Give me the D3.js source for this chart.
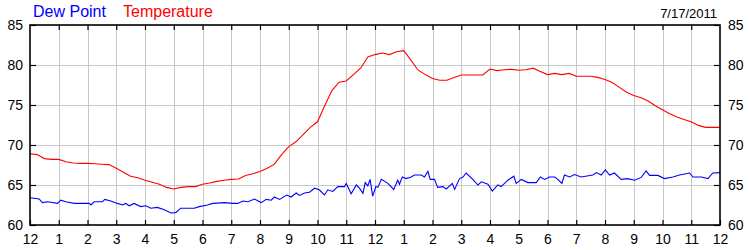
<!DOCTYPE html>
<html>
<head>
<meta charset="utf-8">
<script src="https://cdn.jsdelivr.net/npm/d3@7"></script>
<style>
  body { margin: 0; background: #fff; }
  svg { display: block; font-family: "Liberation Sans", Arial, sans-serif; }
</style>
</head>
<body>
<div id="chart"></div>
<script>
// hour labels along the bottom (midnight to midnight)
var hourLabels = ["12","1","2","3","4","5","6","7","8","9","10","11","12","1","2","3","4","5","6","7","8","9","10","11","12"];
var yTicks = [60, 65, 70, 75, 80, 85];
var chartDate = "7/17/2011";

// temperature, one reading every 15 minutes from 0:00 to 24:00
var tempValues = [
  68.9, 68.8, 68.3, 68.2, 68.2, 67.9, 67.75, 67.7, 67.7, 67.65, 67.6, 67.55,
  67.1, 66.6, 66.1, 65.9, 65.6, 65.35, 65.1, 64.7, 64.5, 64.7, 64.8, 64.8,
  65.1, 65.25, 65.45, 65.6, 65.7, 65.75, 66.2, 66.4, 66.7, 67.1, 67.6, 68.8,
  69.8, 70.4, 71.3, 72.2, 72.9, 74.9, 76.8, 77.85, 78.0, 78.8, 79.6, 81.0,
  81.3, 81.5, 81.3, 81.65, 81.8, 80.6, 79.35, 78.8, 78.3, 78.1, 78.1, 78.45,
  78.75, 78.75, 78.75, 78.75, 79.5, 79.3, 79.4, 79.45, 79.35, 79.4, 79.6, 79.2,
  78.8, 78.95, 78.8, 78.95, 78.6, 78.6, 78.6, 78.45, 78.2, 77.8, 77.2, 76.6,
  76.2, 75.9, 75.5, 74.9, 74.4, 73.9, 73.5, 73.2, 72.9, 72.45, 72.2, 72.2, 72.2
];
var tempHours = tempValues.map(function(d, i) { return i * 0.25; });

// dew point readings (hour of day, value)
var dewHours = [
  0, 0.32, 0.43, 0.61, 0.96, 1.07, 1.25, 1.54, 2.06, 2.12, 2.23, 2.52, 2.6, 2.81,
  3.04, 3.22, 3.33, 3.45, 3.62, 3.85, 4.03, 4.2, 4.43, 4.67, 4.9, 5.07, 5.24, 5.71,
  5.89, 6.17, 6.36, 6.77, 7.05, 7.23, 7.4, 7.58, 7.81, 8.04, 8.22, 8.39, 8.5, 8.68,
  8.93, 9.08, 9.26, 9.37, 9.55, 9.72, 9.9, 10.06, 10.24, 10.36, 10.53, 10.71, 10.94,
  11.0, 11.17, 11.35, 11.46, 11.58, 11.66, 11.75, 11.83, 11.92, 12.03, 12.1, 12.22,
  12.45, 12.65, 12.79, 12.85, 12.95, 13.08, 13.26, 13.37, 13.61, 13.72, 13.84, 13.92,
  14.07, 14.18, 14.36, 14.48, 14.69, 14.77, 14.94, 15.06, 15.17, 15.4, 15.58, 15.7,
  15.93, 16.08, 16.27, 16.39, 16.62, 16.83, 16.91, 17.09, 17.32, 17.61, 17.75, 17.9,
  18.07, 18.25, 18.36, 18.5, 18.59, 18.77, 18.94, 19.17, 19.58, 19.7, 19.87, 20.01,
  20.16, 20.33, 20.56, 20.79, 21.03, 21.26, 21.43, 21.55, 21.84, 22.07, 22.36, 22.59,
  22.94, 23.06, 23.35, 23.58, 23.75, 24
];
var dewValues = [
  63.4, 63.25, 62.8, 62.9, 62.7, 63.1, 62.9, 62.7, 62.7, 62.5, 62.9, 62.9, 63.2, 63.0,
  62.7, 62.5, 62.7, 62.4, 62.7, 62.3, 62.4, 62.1, 62.2, 61.9, 61.5, 61.55, 62.1, 62.1,
  62.3, 62.5, 62.7, 62.8, 62.7, 62.7, 63.0, 62.9, 63.25, 62.8, 63.2, 63.1, 63.5, 63.2,
  63.75, 63.5, 64.0, 63.7, 64.0, 64.1, 64.6, 64.4, 63.75, 64.4, 64.2, 64.8, 64.8,
  65.2, 63.9, 65.0, 64.6, 63.95, 65.3, 64.9, 65.7, 63.6, 64.8, 64.7, 65.7,
  65.2, 64.45, 65.6, 65.1, 66.0, 65.8, 66.0, 66.25, 66.25, 66.0, 66.7, 65.7,
  65.7, 64.7, 64.8, 64.5, 65.2, 64.45, 65.8, 66.0, 66.5, 65.7, 65.0, 65.4,
  65.1, 64.25, 65.0, 64.8, 65.6, 66.1, 65.2, 65.7, 65.3, 65.3, 66.0, 65.7,
  66.0, 66.0, 65.7, 65.2, 66.25, 66.0, 66.3, 66.0, 66.25, 66.55, 66.25, 66.9,
  66.25, 66.5, 65.7, 65.8, 65.6, 65.95, 66.75, 66.2, 66.2, 65.8, 66.0, 66.25,
  66.5, 66.0, 66.0, 65.8, 66.5, 66.55
];

var width = 750, height = 250;
var plotLeft = 30, plotRight = 720, plotTop = 25, plotBottom = 225;

var svg = d3.select("#chart").append("svg")
    .attr("width", width)
    .attr("height", height);

var x = d3.scaleLinear().domain([0, 24]).range([plotLeft, plotRight]);
var y = d3.scaleLinear().domain([60, 85]).range([plotBottom, plotTop]);

// grid
svg.append("g").selectAll("line")
   .data(d3.range(1, 24))
   .enter().append("line")
   .attr("x1", function(d) { return Math.round(x(d)) + 0.5; })
   .attr("x2", function(d) { return Math.round(x(d)) + 0.5; })
   .attr("y1", plotTop).attr("y2", plotBottom)
   .attr("stroke", "#c8c8c8");

svg.append("g").selectAll("line")
   .data(yTicks.slice(1, -1))
   .enter().append("line")
   .attr("x1", plotLeft).attr("x2", plotRight)
   .attr("y1", function(d) { return Math.round(y(d)) + 0.5; })
   .attr("y2", function(d) { return Math.round(y(d)) + 0.5; })
   .attr("stroke", "#c8c8c8");

// lines
var valueLine = d3.line()
    .x(function(d) { return x(d[0]); })
    .y(function(d) { return y(d[1]); });

svg.append("path")
   .datum(d3.zip(tempHours, tempValues))
   .attr("d", valueLine)
   .attr("fill", "none")
   .attr("stroke", "#ff0000")
   .attr("stroke-width", 1.1);

svg.append("path")
   .datum(d3.zip(dewHours, dewValues))
   .attr("d", valueLine)
   .attr("fill", "none")
   .attr("stroke", "#0000ff")
   .attr("stroke-width", 1.1);

// frame
svg.append("rect")
   .attr("x", plotLeft).attr("y", plotTop)
   .attr("width", plotRight - plotLeft).attr("height", plotBottom - plotTop)
   .attr("fill", "none")
   .attr("stroke", "#000")
   .attr("stroke-width", 1.6);

// bottom axis + top ticks
var xAxis = d3.axisBottom(x)
    .tickValues(d3.range(0, 25))
    .tickSizeInner(-5).tickSizeOuter(0)
    .tickPadding(9)
    .tickFormat(function(d, i) { return hourLabels[i]; });

svg.append("g")
   .attr("transform", "translate(0," + plotBottom + ")")
   .call(xAxis);

svg.append("g")
   .attr("transform", "translate(0," + plotTop + ")")
   .call(d3.axisTop(x).tickValues(d3.range(1, 24)).tickSizeInner(-5).tickSizeOuter(0).tickFormat(""));

svg.append("g")
   .attr("transform", "translate(" + plotLeft + ",0)")
   .call(d3.axisLeft(y).tickValues(yTicks).tickSizeInner(-6).tickSizeOuter(0).tickPadding(7));

svg.append("g")
   .attr("transform", "translate(" + plotRight + ",0)")
   .call(d3.axisRight(y).tickValues(yTicks).tickSizeInner(-6).tickSizeOuter(0).tickPadding(8));

svg.selectAll(".domain").remove();
svg.selectAll(".tick line").attr("stroke", "#000").attr("stroke-width", 1.2);
svg.selectAll(".tick text")
   .attr("fill", "#000")
   .style("font-family", '"Liberation Sans", Arial, sans-serif')
   .style("font-size", "14px");

// legend and date
svg.append("text").attr("x", 33).attr("y", 17)
   .attr("fill", "#0000ff").style("font-size", "16px").text("Dew Point");
svg.append("text").attr("x", 123).attr("y", 17)
   .attr("fill", "#ff0000").style("font-size", "16px").text("Temperature");
svg.append("text").attr("x", 717).attr("y", 18)
   .attr("text-anchor", "end")
   .attr("fill", "#000").style("font-size", "13px").text(chartDate);
</script>
</body>
</html>
